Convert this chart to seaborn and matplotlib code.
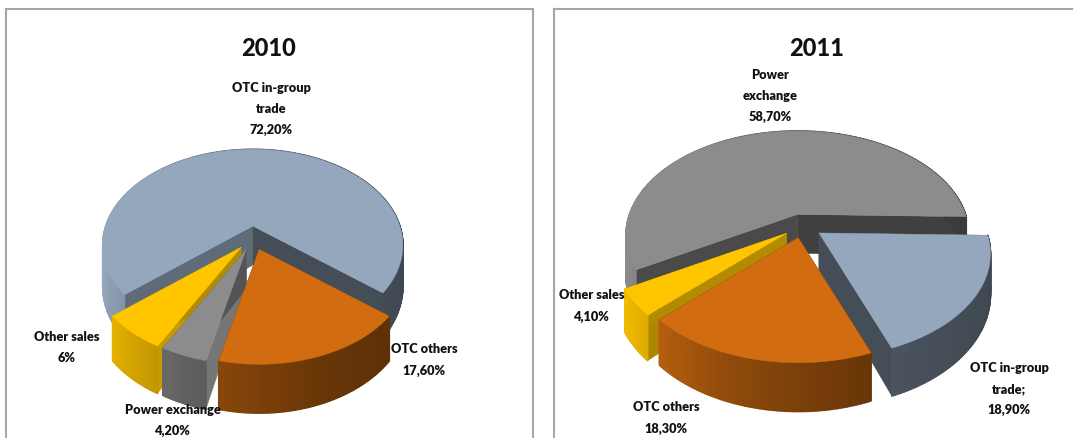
import numpy as np
import matplotlib
matplotlib.use("Agg")
import matplotlib.pyplot as plt
from matplotlib.collections import PolyCollection
from matplotlib.colors import to_rgb
import seaborn as sns

# values, clockwise from the first slice
labels_2010 = ["OTC in-group\ntrade\n72,20%", "OTC others\n17,60%", "Power exchange\n4,20%", "Other sales\n6%"]
values_2010 = [72.2, 17.6, 4.2, 6.0]
colors_2010 = ["#95a7bd", "#d16c10", "#8c8c8c", "#ffc600"]
cut_start_2010 = [0.64, 0.5, 0.84, 0.78]
cut_end_2010 = [0.46, 0.5, 0.6, 0.7]
label_xy_2010 = [(271, 109), (424, 360), (173, 420.5), (67, 348)]

labels_2011 = ["Power\nexchange\n58,70%", "OTC in-group\ntrade;\n18,90%", "OTC others\n18,30%", "Other sales\n4,10%"]
values_2011 = [58.7, 18.9, 18.3, 4.1]
colors_2011 = ["#8c8c8c", "#95a7bd", "#d16c10", "#ffc600"]
cut_start_2011 = [0.53, 0.46, 0.5, 0.68]
cut_end_2011 = [0.46, 0.46, 0.5, 0.7]
label_xy_2011 = [(770, 96), (1009, 389), (666, 418), (592, 306)]

W, H = 1073, 439
TILT = 0.2      # perspective, back of the pie is smaller than the front
DEPTH = 39


def project(angle, rx, ry):
    """Angle in degrees clockwise from the top -> offset from the apex in pixels."""
    a = np.radians(angle)
    u, v = np.sin(a), np.cos(a)
    w = 1 + TILT * v
    return rx * u / w, -ry * v / w, w


def draw_pie(ax, values, colors, cut_start, cut_end, center, rx, ry, start, explode):
    fracs = np.array(values) / sum(values) * 360
    starts = start + np.concatenate([[0], np.cumsum(fracs)[:-1]])
    mids = starts + fracs / 2
    z = 2
    # back slices first so the front ones sit on top
    for i in np.argsort(-np.cos(np.radians(mids))):
        m = np.radians(mids[i])
        ox = center[0] + explode * rx * np.sin(m)
        oy = center[1] - explode * ry * np.cos(m)
        angles = np.linspace(starts[i], starts[i] + fracs[i], max(int(fracs[i]), 3) + 1)
        px, py, pw = project(angles, rx, ry)
        px, py = px + ox, py + oy
        base = np.array(to_rgb(colors[i]))

        # cut faces
        for idx, shade in [(0, cut_start[i]), (-1, cut_end[i])]:
            face = [(ox, oy), (px[idx], py[idx]), (px[idx], py[idx] + DEPTH / pw[idx]), (ox, oy + DEPTH)]
            ax.fill(*zip(*face), color=base * shade, lw=0.3, zorder=z)
        z += 1

        # rim, light on the left going dark on the right
        shades = sns.blend_palette([base, base * 0.68, base * 0.5, base * 0.42], 64)
        polys, cols = [], []
        for j in range(len(angles) - 1):
            polys.append([(px[j], py[j]), (px[j + 1], py[j + 1]),
                          (px[j + 1], py[j + 1] + DEPTH / pw[j + 1]), (px[j], py[j] + DEPTH / pw[j])])
            u = np.sin(np.radians(angles[j]))
            cols.append(shades[int((u + 1) / 2 * 63)])
        ax.add_collection(PolyCollection(polys, facecolors=cols, edgecolors=cols, linewidths=1.2, zorder=z))
        z += 1

        # top
        ax.fill(np.r_[ox, px], np.r_[oy, py], color=colors[i], lw=0.3, zorder=z)
        z += 1


def panel(fig, left, right, title, title_x, labels, label_xy, *pie_args):
    ax = fig.add_axes([left / W, 0, (right - left) / W, 1 - 10 / H])
    ax.set_xlim(left, right)
    ax.set_ylim(H, 10)
    ax.set_xticks([])
    ax.set_yticks([])
    ax.set_facecolor("white")
    for name, spine in ax.spines.items():
        spine.set_color("#a6a6a6")
        spine.set_linewidth(1.5)
    ax.spines["bottom"].set_visible(False)
    draw_pie(ax, *pie_args)
    ax.text(title_x, 49, title, ha="center", va="center", fontsize=17, fontweight="black", color="#111111", zorder=50)
    for text, (x, y) in zip(labels, label_xy):
        ax.text(x, y, text, ha="center", va="center", fontsize=9.2, fontweight="heavy",
                color="#111111", linespacing=1.9, zorder=50, clip_on=False)
    return ax


sns.set_theme(style="white")
plt.rcParams["font.family"] = ["Lato", "DejaVu Sans"]

fig = plt.figure(figsize=(W / 100, H / 100), dpi=100)
fig.patch.set_facecolor("white")

panel(fig, 6, 533, "2010", 269, labels_2010, label_xy_2010,
      values_2010, colors_2010, cut_start_2010, cut_end_2010, (253, 239), 147, 92, 229.5, 0.13)
ax2 = panel(fig, 554, 1075, "2011", 817, labels_2011, label_xy_2011,
            values_2011, colors_2011, cut_start_2011, cut_end_2011, (802.5, 227), 168, 100, 240, 0.12)
ax2.spines["right"].set_visible(False)

fig.savefig("out.png", dpi=100)
